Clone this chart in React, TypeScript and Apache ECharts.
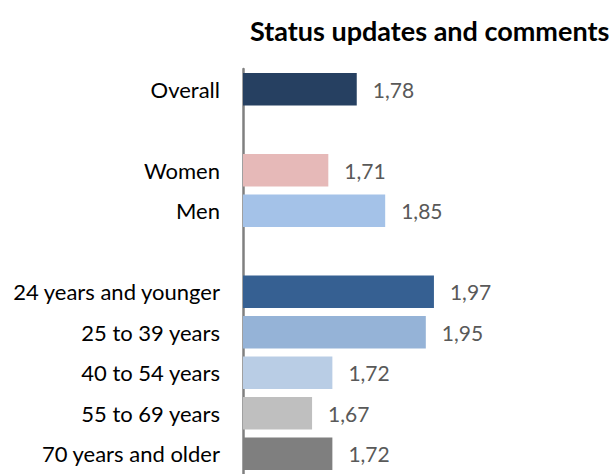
import React, { useEffect, useRef } from "react";
import * as echarts from "echarts";

const categories = [
  "Overall",
  "",
  "Women",
  "Men",
  " ",
  "24 years and younger",
  "25 to 39 years",
  "40 to 54 years",
  "55 to 69 years",
  "70 years and older",
];
const values: (number | null)[] = [1.78, null, 1.71, 1.85, null, 1.97, 1.95, 1.72, 1.67, 1.72];
const colors = [
  "#264061",
  "#ffffff",
  "#E6B9B8",
  "#A4C2E8",
  "#ffffff",
  "#366092",
  "#95B3D7",
  "#B9CDE5",
  "#BFBFBF",
  "#7F7F7F",
];
const titleText = "Status updates and comments";

const FONT = "Lato, 'Open Sans', sans-serif";

export default function App() {
  const ref = useRef<HTMLDivElement>(null);
  useEffect(() => {
    if (!ref.current) return;
    const chart = echarts.init(ref.current, null, { renderer: "svg" });
    chart.setOption({
      animation: false,
      backgroundColor: "#ffffff",
      title: {
        text: titleText,
        left: 245,
        top: 12,
        textStyle: { fontFamily: FONT, fontWeight: "bold", fontSize: 27, color: "#000000" },
      },
      grid: { left: 243, right: 48, top: 69, bottom: -9, containLabel: false },
      xAxis: {
        type: "value",
        min: 1.5,
        max: 2.3,
        show: false,
      },
      yAxis: {
        type: "category",
        inverse: true,
        data: categories,
        axisLine: { show: true, lineStyle: { color: "#808080", width: 2.5 } },
        axisTick: { show: false },
        splitLine: { show: false },
        axisLabel: { fontFamily: FONT, fontSize: 22, color: "#000000", margin: 23 },
      },
      series: [
        {
          type: "bar",
          barCategoryGap: "20%",
          data: values.map((v, i) => ({ value: v, itemStyle: { color: colors[i] } })),
          label: {
            show: true,
            position: "right",
            distance: 16,
            fontFamily: FONT,
            fontSize: 21,
            color: "#595959",
            formatter: (p: any) => (p.value == null ? "" : Number(p.value).toFixed(2).replace(".", ",")),
          },
        },
      ],
    });
    return () => chart.dispose();
  }, []);
  return (
    <div style={{ position: "fixed", left: 0, top: 0, width: 616, height: 474, background: "#fff" }}>
      <div ref={ref} style={{ width: 616, height: 474 }} />
    </div>
  );
}
